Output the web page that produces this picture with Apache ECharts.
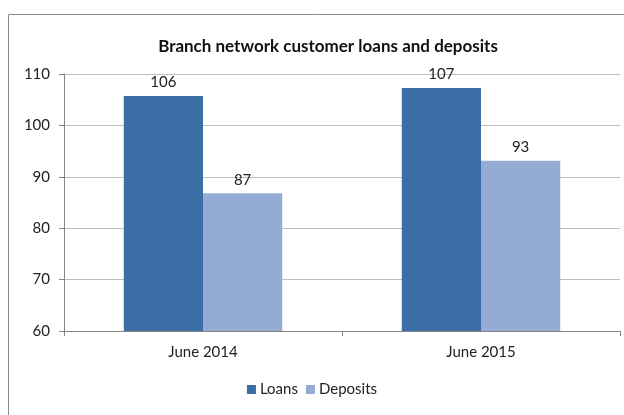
<!DOCTYPE html>
<html><head><meta charset="utf-8">
<script src="https://cdn.jsdelivr.net/npm/echarts@6/dist/echarts.min.js"></script>
<style>html,body{margin:0;padding:0;background:#fff}#c{width:624px;height:415px}</style>
</head><body><div id="c"></div>
<script>
const categories = ['June 2014', 'June 2015'];
const loans = [105.7, 107.3];
const deposits = [86.8, 93.1];
const yTicks = [60, 70, 80, 90, 100, 110];

const chart = echarts.init(document.getElementById('c'));
const font = 'Lato, "Open Sans", sans-serif';
const lbl = {show: true, position: 'top', distance: 6, color: '#222', fontSize: 15, fontFamily: font,
  formatter: p => Math.round(p.value)};
chart.setOption({
  animation: false,
  graphic: [{type: 'rect', shape: {x: 8.5, y: 14.5, width: 700, height: 500},
    style: {fill: 'none', stroke: '#8a8a8a', lineWidth: 1}, silent: true}],
  title: {text: 'Branch network customer loans and deposits', left: 323, textAlign: 'center', top: 33,
    textStyle: {fontFamily: font, fontWeight: 'bold', fontSize: 17, color: '#111'}},
  legend: {bottom: 13, left: 'center', itemWidth: 9, itemHeight: 9, itemGap: 8, icon: 'rect',
    textStyle: {fontFamily: font, fontSize: 15, color: '#222', padding: [0, 0, 0, -1]},
    data: ['Loans', 'Deposits']},
  grid: {left: 64, right: 4, top: 74, bottom: 84},
  xAxis: {type: 'category', data: categories,
    axisLine: {lineStyle: {color: '#868686'}},
    axisTick: {show: true, length: 5, lineStyle: {color: '#868686'}},
    axisLabel: {fontFamily: font, fontSize: 15, color: '#222', margin: 14}},
  yAxis: {type: 'value', min: yTicks[0], max: yTicks[yTicks.length - 1], interval: 10,
    axisLine: {show: true, lineStyle: {color: '#868686'}},
    axisTick: {show: true, length: 5, lineStyle: {color: '#868686'}},
    splitLine: {lineStyle: {color: '#bdbdbd'}},
    axisLabel: {fontFamily: font, fontSize: 15, color: '#222', margin: 14}},
  series: [
    {name: 'Loans', type: 'bar', data: loans, barGap: '0%', barCategoryGap: '43%',
      itemStyle: {color: '#3c6ea6'}, label: lbl},
    {name: 'Deposits', type: 'bar', data: deposits,
      itemStyle: {color: '#94acd3'}, label: lbl}
  ]
});
</script></body></html>
